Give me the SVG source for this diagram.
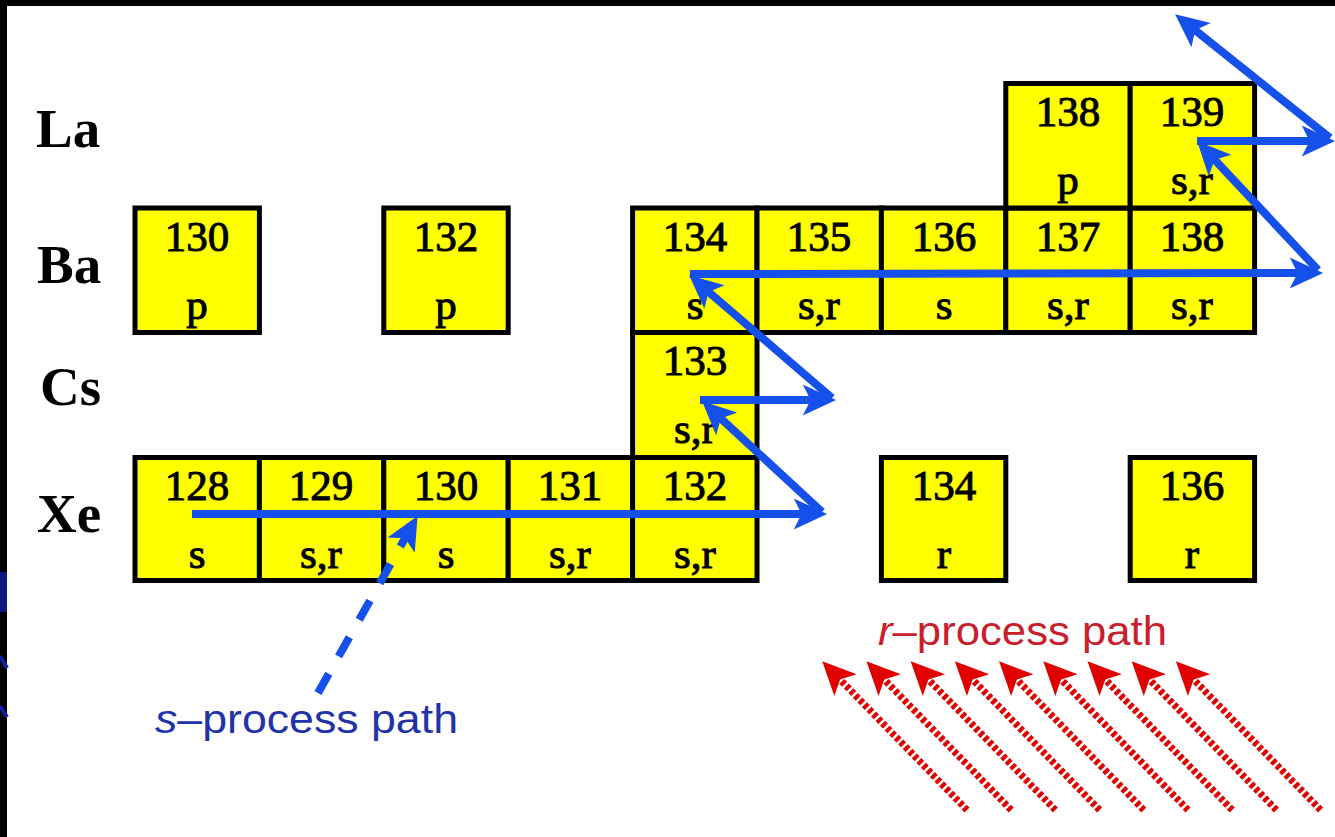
<svg xmlns="http://www.w3.org/2000/svg" width="1335" height="837" viewBox="0 0 1335 837">
<style>
.cell{fill:#ffff00;stroke:#000;stroke-width:5}
.num{font-family:"Liberation Serif",serif;font-size:43px;fill:#000;stroke:#000;stroke-width:1;text-anchor:middle}
.el{font-family:"Liberation Serif",serif;font-weight:bold;font-size:55px;fill:#000}
.blue{fill:none;stroke:#1650eb;stroke-width:8;marker-end:url(#bh)}
.red{fill:none;stroke:#e00000;stroke-width:7;stroke-dasharray:4 2.5;marker-end:url(#rh)}
.lbl{font-family:"Liberation Sans",sans-serif;font-size:41px}
</style>
<defs>
<marker id="bh" markerUnits="userSpaceOnUse" markerWidth="40" markerHeight="40" viewBox="-2 -16 36 32" refX="20" refY="0" orient="auto">
<path d="M30,0 L0,-14 L7,0 L0,14 Z" fill="#1650eb"/>
</marker>
<marker id="rh" markerUnits="userSpaceOnUse" markerWidth="40" markerHeight="40" viewBox="-2 -16 36 32" refX="20" refY="0" orient="auto">
<path d="M30,0 L0,-14 L7,0 L0,14 Z" fill="#e00000"/>
</marker>
</defs>
<rect x="0" y="0" width="1335" height="837" fill="#000"/>
<rect x="7" y="6" width="1328" height="831" fill="#fff"/>
<rect x="0" y="572" width="7" height="40" fill="#0a1a80"/>
<path d="M0,656 L7,668 M0,706 L7,717" stroke="#1020a0" stroke-width="4"/>

<g id="labels">
<text class="el" x="36" y="147">La</text>
<text class="el" x="37" y="283">Ba</text>
<text class="el" x="40" y="405">Cs</text>
<text class="el" x="37" y="532">Xe</text>
</g>

<g id="Ba130"><rect class="cell" x="135" y="208" width="124.4" height="124.5"/><text class="num" x="197" y="251">130</text><text class="num" x="197" y="319">p</text></g>
<g id="Ba132"><rect class="cell" x="383.8" y="208" width="124.4" height="124.5"/><text class="num" x="446" y="251">132</text><text class="num" x="446" y="319">p</text></g>
<g id="Ba134"><rect class="cell" x="632.6" y="208" width="124.4" height="124.5"/><text class="num" x="695" y="251">134</text><text class="num" x="695" y="319">s</text></g>
<g id="Ba135"><rect class="cell" x="757" y="208" width="124.4" height="124.5"/><text class="num" x="819" y="251">135</text><text class="num" x="819" y="319">s,r</text></g>
<g id="Ba136"><rect class="cell" x="881.4" y="208" width="124.4" height="124.5"/><text class="num" x="944" y="251">136</text><text class="num" x="944" y="319">s</text></g>
<g id="Ba137"><rect class="cell" x="1005.8" y="208" width="124.4" height="124.5"/><text class="num" x="1068" y="251">137</text><text class="num" x="1068" y="319">s,r</text></g>
<g id="Ba138"><rect class="cell" x="1130.2" y="208" width="124.4" height="124.5"/><text class="num" x="1192" y="251">138</text><text class="num" x="1192" y="319">s,r</text></g>
<g id="La138"><rect class="cell" x="1005.8" y="83.5" width="124.4" height="124.5"/><text class="num" x="1068" y="126">138</text><text class="num" x="1068" y="194">p</text></g>
<g id="La139"><rect class="cell" x="1130.2" y="83.5" width="124.4" height="124.5"/><text class="num" x="1192" y="126">139</text><text class="num" x="1192" y="194">s,r</text></g>
<g id="Cs133"><rect class="cell" x="632.6" y="332.5" width="124.4" height="125"/><text class="num" x="695" y="375">133</text><text class="num" x="695" y="443">s,r</text></g>
<g id="Xe128"><rect class="cell" x="135" y="457.5" width="124.4" height="123"/><text class="num" x="197" y="500">128</text><text class="num" x="197" y="568">s</text></g>
<g id="Xe129"><rect class="cell" x="259.4" y="457.5" width="124.4" height="123"/><text class="num" x="321" y="500">129</text><text class="num" x="321" y="568">s,r</text></g>
<g id="Xe130"><rect class="cell" x="383.8" y="457.5" width="124.4" height="123"/><text class="num" x="446" y="500">130</text><text class="num" x="446" y="568">s</text></g>
<g id="Xe131"><rect class="cell" x="508.2" y="457.5" width="124.4" height="123"/><text class="num" x="570" y="500">131</text><text class="num" x="570" y="568">s,r</text></g>
<g id="Xe132"><rect class="cell" x="632.6" y="457.5" width="124.4" height="123"/><text class="num" x="695" y="500">132</text><text class="num" x="695" y="568">s,r</text></g>
<g id="Xe134"><rect class="cell" x="881.4" y="457.5" width="124.4" height="123"/><text class="num" x="944" y="500">134</text><text class="num" x="944" y="568">r</text></g>
<g id="Xe136"><rect class="cell" x="1130.2" y="457.5" width="124.4" height="123"/><text class="num" x="1192" y="500">136</text><text class="num" x="1192" y="568">r</text></g>

<g id="connectors">
<path class="blue" d="M192,514 L816,514"/>
<path class="blue" d="M822,512 L710.3,408.8"/>
<path class="blue" d="M700,400 L825,400"/>
<path class="blue" d="M832,398 L697.6,282.5"/>
<path class="blue" d="M690,274 L1312,273"/>
<path class="blue" d="M1318,270 L1204.8,149.3"/>
<path class="blue" d="M1197,141 L1324,141"/>
<path class="blue" d="M1330,138 L1183.8,21.2"/>
<path class="blue" d="M318,693 L412.1,525.7" stroke-dasharray="22 20"/>
<path class="red" d="M967,810 L830,669.2"/>
<path class="red" d="M1011.2,810 L874.2,669.2"/>
<path class="red" d="M1055.4,810 L918.4,669.2"/>
<path class="red" d="M1099.6,810 L962.6,669.2"/>
<path class="red" d="M1143.8,810 L1006.8,669.2"/>
<path class="red" d="M1188,810 L1051,669.2"/>
<path class="red" d="M1232.2,810 L1095.2,669.2"/>
<path class="red" d="M1276.4,810 L1139.4,669.2"/>
<path class="red" d="M1320.6,810 L1183.6,669.2"/>
</g>

<g id="s-label"><text class="lbl" x="155" y="733" fill="#2233aa" textLength="303" lengthAdjust="spacingAndGlyphs"><tspan font-style="italic">s</tspan>–process path</text></g>
<g id="r-label"><text class="lbl" x="878" y="645" fill="#c8202a" textLength="289" lengthAdjust="spacingAndGlyphs"><tspan font-style="italic">r</tspan>–process path</text></g>
</svg>
